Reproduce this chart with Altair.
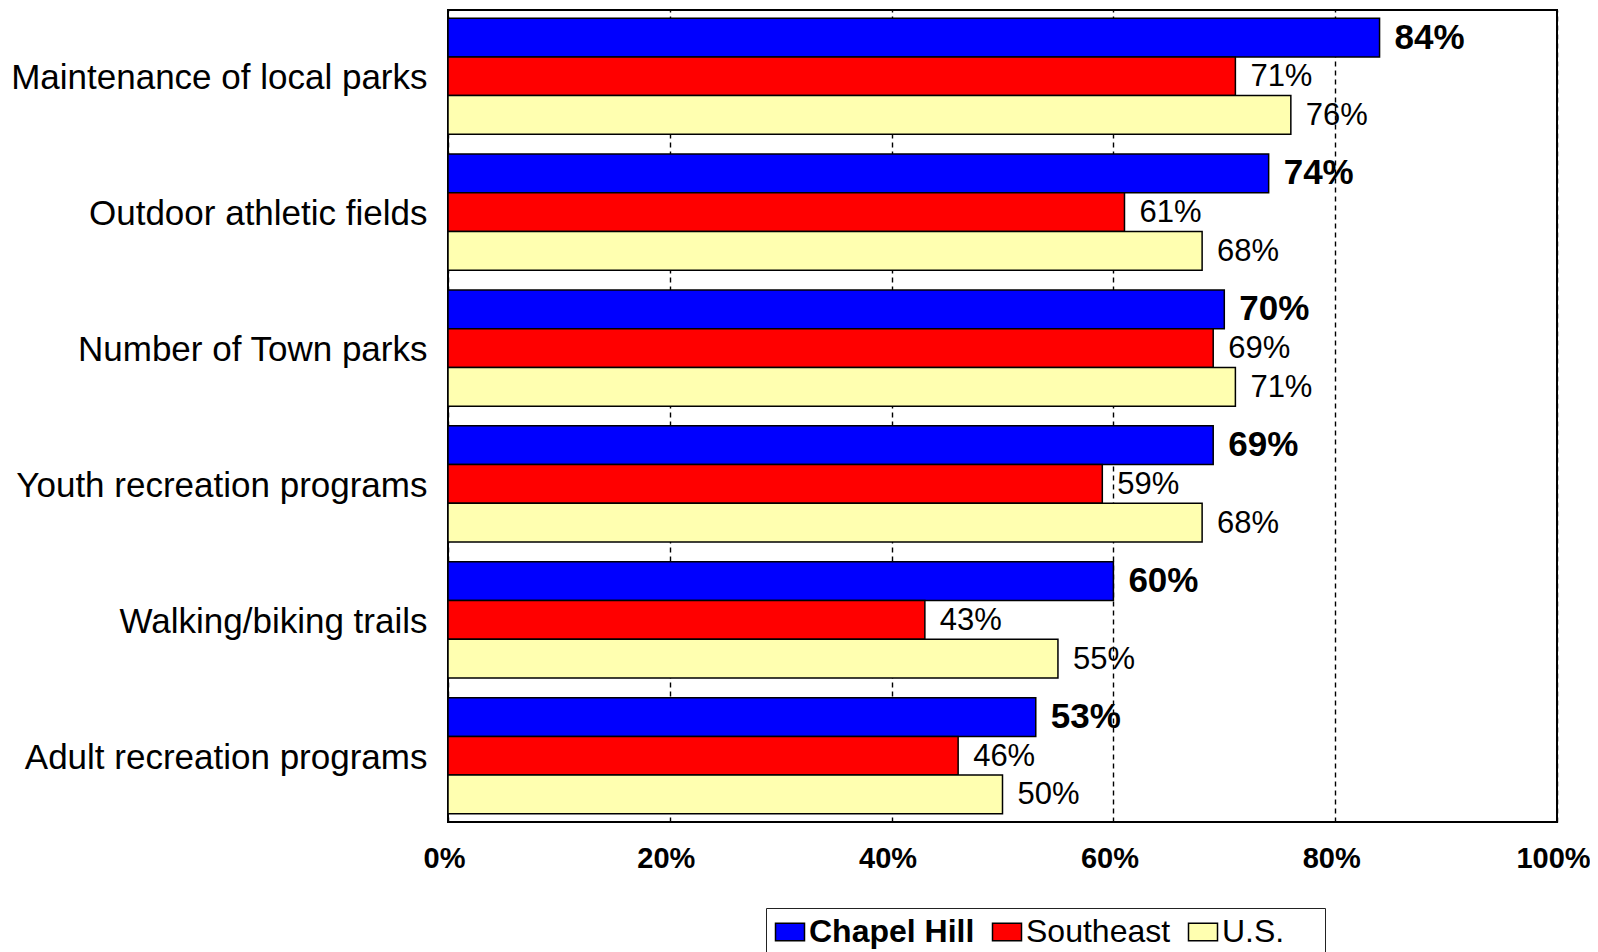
import altair as alt
import pandas as pd

categories = ["Maintenance of local parks", "Outdoor athletic fields", "Number of Town parks",
              "Youth recreation programs", "Walking/biking trails", "Adult recreation programs"]
series = ["Chapel Hill", "Southeast", "U.S."]
chapel_hill = [84, 74, 70, 69, 60, 53]
southeast = [71, 61, 69, 59, 43, 46]
us = [76, 68, 71, 68, 55, 50]
colors = ["#0000FF", "#FF0000", "#FFFFB0"]
x_ticks = [0, 20, 40, 60, 80, 100]

rows = []
for s, vals in zip(series, [chapel_hill, southeast, us]):
    for c, v in zip(categories, vals):
        rows.append({"category": c, "series": s, "value": v})
df = pd.DataFrame(rows)

base = alt.Chart(df).transform_calculate(
    label="datum.value + '%'"
).encode(
    y=alt.Y("category:N", sort=categories, title=None,
            scale=alt.Scale(paddingInner=0.145, paddingOuter=0.06),
            axis=alt.Axis(ticks=False, domain=False, labelFontSize=35, labelPadding=21,
                          labelOffset=2, labelLimit=600, labelColor="black",
                          labelFont="Liberation Sans")),
    yOffset=alt.YOffset("series:N", sort=series, scale=alt.Scale(paddingInner=0, paddingOuter=0)),
)

bars = base.mark_bar(stroke="black", strokeWidth=1.5).encode(
    x=alt.X("value:Q", scale=alt.Scale(domain=[0, 100]), title=None,
            axis=alt.Axis(values=x_ticks, labelExpr="datum.value + '%'", ticks=False, domain=False,
                          grid=True, gridColor="black", gridDash=[5, 4], gridWidth=1.4,
                          labelFontSize=29, labelFontWeight="bold", labelFlush=False,
                          labelOffset=-4, labelFont="Liberation Sans",
                          labelColor="black", labelPadding=22)),
    color=alt.Color("series:N", sort=series,
                    scale=alt.Scale(domain=series, range=colors),
                    legend=alt.Legend(title=None, orient="none", legendX=318, legendY=898,
                                      direction="horizontal", strokeColor="#222", padding=8,
                                      labelFontSize=32, labelFont="Liberation Sans", labelColor="black",
                                      labelExpr="datum.value == 'U.S.' ? 'U.S.\u00a0\u2800' : datum.label",
                                      labelFontWeight=alt.ExprRef(expr="datum.value == 'Chapel Hill' ? 'bold' : 'normal'"),
                                      symbolType="M-1,-0.6H1V0.6H-1Z", symbolSize=841,
                                      symbolStrokeColor="black", symbolStrokeWidth=1.5,
                                      symbolOpacity=1, labelOffset=3, columnPadding=14,
                                      labelLimit=400)),
)

text_bold = base.transform_filter(alt.datum.series == "Chapel Hill").mark_text(
    align="left", baseline="middle", dx=15, fontSize=35, fontWeight="bold",
    font="Liberation Sans", color="black"
).encode(x="value:Q", text="label:N")

text_norm = base.transform_filter(alt.datum.series != "Chapel Hill").mark_text(
    align="left", baseline="middle", dx=15, dy=1, fontSize=31, fontWeight="normal",
    font="Liberation Sans", color="black"
).encode(x="value:Q", text="label:N")

chart = alt.layer(bars, text_bold, text_norm).properties(
    width=1109, height=812,
    autosize=alt.AutoSizeParams(type="none"),
    padding={"left": 440, "top": 2, "right": 33, "bottom": 130},
).configure_view(stroke="black", strokeWidth=2)

chart.save("out.html", embed_options={"renderer": "svg", "actions": False})
